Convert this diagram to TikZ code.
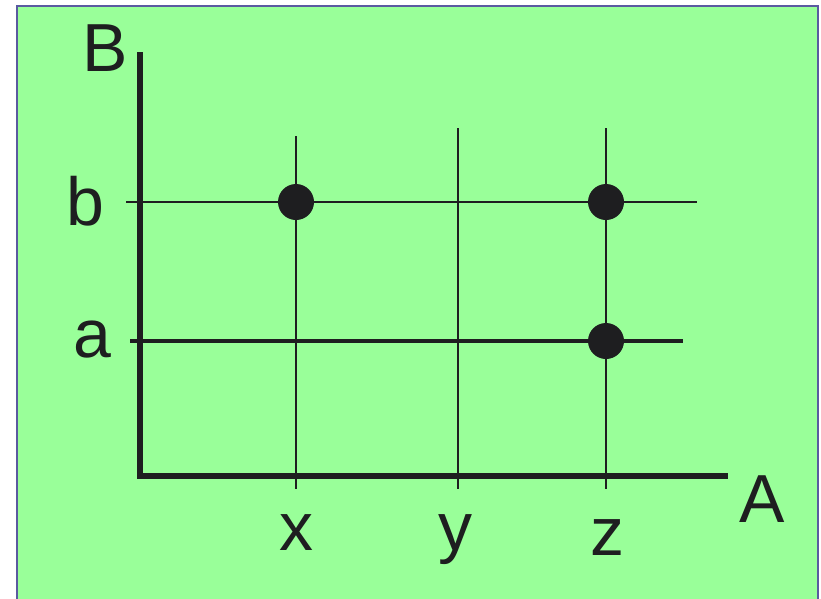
\documentclass[tikz,border=0pt]{standalone}
\usepackage{fontspec}
\setmainfont{Liberation Sans}
\definecolor{bggreen}{RGB}{153,255,153}
\definecolor{frameblue}{RGB}{90,90,160}
\definecolor{ink}{RGB}{30,30,32}
\begin{document}
\begin{tikzpicture}[x=1pt,y=-1pt,
  axis/.style={draw=ink,line width=6pt},
  grid/.style={draw=ink,line width=2pt},
  gridthick/.style={draw=ink,line width=3.5pt},
  dot/.style={circle,fill=ink,inner sep=0pt,minimum size=36pt},
  lbl/.style={anchor=base,inner sep=0pt,text=ink,font=\fontsize{68}{80}\selectfont}]
\useasboundingbox (0,0) rectangle (821,598);
\draw[fill=bggreen,draw=frameblue,line width=2.2pt] (17,6) rectangle (818,640);
% grid lines
\coordinate (xt) at (296,136); \coordinate (xb) at (296,489);
\coordinate (yt) at (458,128); \coordinate (yb) at (458,489);
\coordinate (zt) at (606,128); \coordinate (zb) at (606,489);
\coordinate (bl) at (126,202); \coordinate (br) at (697,202);
\coordinate (al) at (130,341); \coordinate (ar) at (683,341);
\draw[grid] (xt) -- (xb);
\draw[grid] (yt) -- (yb);
\draw[grid] (zt) -- (zb);
\draw[grid] (bl) -- (br);
\draw[gridthick] (al) -- (ar);
% axes
\coordinate (origin) at (140,476);
\coordinate (ytop) at (140,52);
\coordinate (xend) at (728,476);
\draw[axis] (ytop) -- (140,479);
\draw[axis] (137,476) -- (xend);
% dots
\node[dot] (xb1) at (296,202) {};
\node[dot] (zb1) at (606,202) {};
\node[dot] (za1) at (606,341) {};
% labels
\node[lbl] (LB) at (105,71) {B};
\node[lbl] (Lb) at (85,225) {b};
\node[lbl] (La) at (92,357) {a};
\node[lbl] (Lx) at (296,550) {x};
\node[lbl] (Ly) at (455,550) {y};
\node[lbl] (Lz) at (607,555) {z};
\node[lbl] (LA) at (762,522) {A};
\end{tikzpicture}
\end{document}
